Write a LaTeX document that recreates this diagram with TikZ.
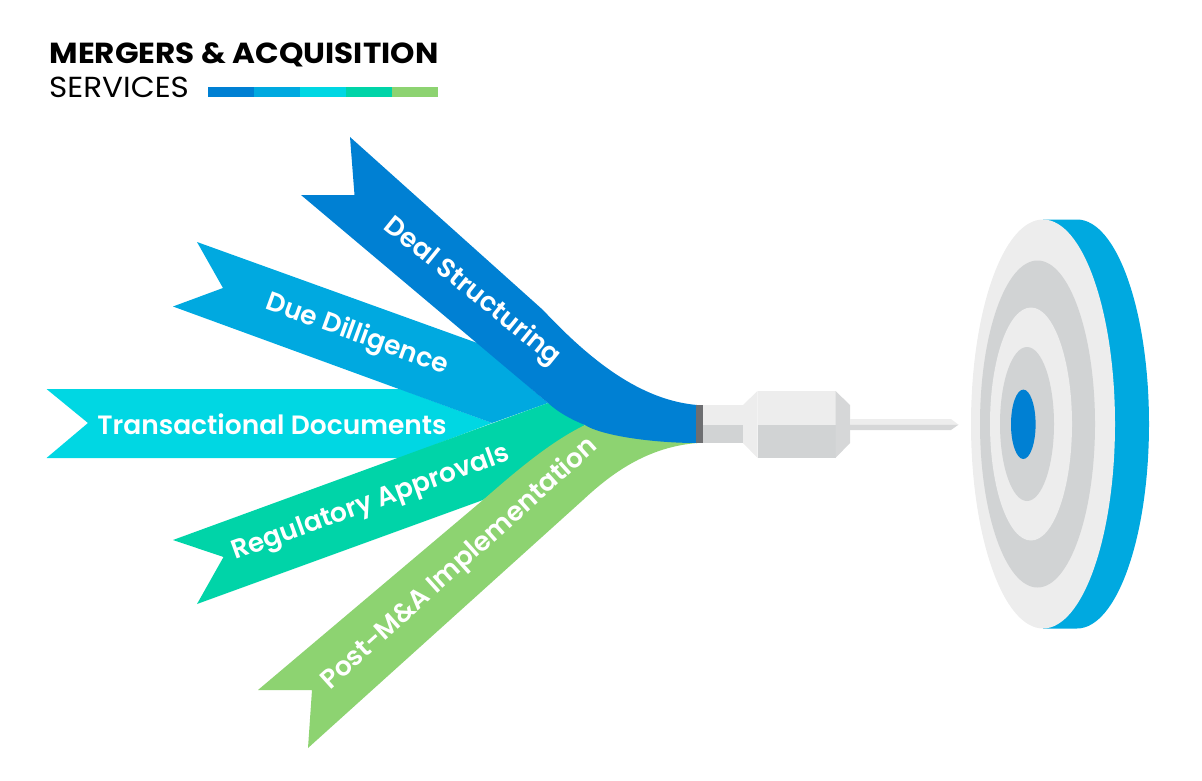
\documentclass[tikz,border=0pt]{standalone}
\usepackage{fontspec}
\setmainfont{Poppins}
\newfontfamily\labelfont{Poppins SemiBold}
\usepackage{tikz}
\usetikzlibrary{positioning}
\definecolor{mblue}{HTML}{0080D3}
\definecolor{msky}{HTML}{00A9E0}
\definecolor{mcyan}{HTML}{00D7E3}
\definecolor{mteal}{HTML}{00D4A8}
\definecolor{mgreen}{HTML}{8DD371}
\definecolor{mlight}{HTML}{EDEDED}
\definecolor{mgray}{HTML}{D1D3D4}
\definecolor{mdark}{HTML}{6D6E71}
\tikzset{label/.style = {text = white, font = \fontsize{26.5}{26.5}\labelfont, inner sep = 0}}
\tikzset{barpart/.style = {minimum width = 46, minimum height = 10, inner sep = 0, outer sep = 0}}
\begin{document}
\begin{tikzpicture}[x = 1pt, y = -1pt]
    \useasboundingbox (0, 0) rectangle (1202, 781);
    % ribbons
    \fill [mcyan] (46.5, 389) -- (400, 389) -- (492, 423) -- (400, 458) -- (46.5, 458) -- (88, 423) -- cycle;
    \fill [msky] (197, 242) -- (480, 344) -- (548, 403) -- (492, 423) -- (173, 306.5) -- (223, 288) -- cycle;
    \fill [mteal] (173, 540) -- (548, 403) -- (585, 425) -- (483, 500) -- (197, 604) -- (223.5, 557) -- cycle;
    \fill [mgreen] (308, 748) -- (312, 690) -- (258, 690) -- (483, 500)
      .. controls (515, 472) and (550, 442) .. (585, 425) -- (697, 443)
      .. controls (650, 447) and (615, 470) .. (583, 500) -- cycle;
    \fill [mblue] (350, 137) -- (543, 310) .. controls (590, 360) and (640, 400) .. (697, 405)
      -- (697, 443) .. controls (650, 443) and (600, 435) .. (585, 425)
      .. controls (570, 419) and (558, 412) .. (548, 403) -- (301, 195) -- (354.5, 195) -- cycle;
    % dart
    \fill [mlight] (703, 405) -- (743, 405) -- (743, 424.5) -- (703, 424.5) -- cycle;
    \fill [mgray] (703, 424.5) -- (743, 424.5) -- (743, 443) -- (703, 443) -- cycle;
    \fill [mlight] (743, 405) -- (757.5, 391) -- (757.5, 458) -- (743, 443) -- cycle;
    \fill [mlight] (757.5, 391) rectangle (835.5, 424.5);
    \fill [mgray] (757.5, 424.5) rectangle (835.5, 458);
    \fill [mgray!90!white] (835.5, 391) -- (850, 405) -- (850, 443) -- (835.5, 458) -- cycle;
    \fill [mlight] (850, 419) -- (951, 419) -- (958.5, 424.7) -- (850, 424.7) -- cycle;
    \fill [mgray!90!white] (850, 424.7) -- (958.5, 424.7) -- (951, 430) -- (850, 430) -- cycle;
    \fill [mdark] (696, 405) rectangle (703, 443);
    % target
    \fill [msky] (1043, 219.5) -- (1077, 219.5) arc (-90:90:72 and 204.5) -- (1043, 628.5) -- cycle;
    \fill [mlight] (1043, 424) ellipse (72 and 204.5);
    \fill [mgray] (1037.5, 424) ellipse (57.5 and 163.5);
    \fill [mlight] (1031, 424) ellipse (41 and 116.5);
    \fill [mgray] (1027, 424) ellipse (27 and 77);
    \fill [mblue] (1023.3, 424.3) ellipse (12.3 and 34.7);
    % title
    \node (title) [anchor = base west, inner sep = 0, xscale = 1.07, font = \fontsize{29}{29}\selectfont\bfseries] at (49.5, 64) {MERGERS \& ACQUISITION};
    \node (services) [anchor = base west, inner sep = 0, xscale = 1.07, font = \fontsize{29}{29}\selectfont] at (49, 98) {SERVICES};
    \node (bara) [barpart, fill = mblue, anchor = north west] at (208, 87) {};
    \node (barb) [barpart, fill = msky, right = 0 of bara] {};
    \node (barc) [barpart, fill = mcyan, right = 0 of barb] {};
    \node (bard) [barpart, fill = mteal, right = 0 of barc] {};
    \node (bare) [barpart, fill = mgreen, right = 0 of bard] {};
    % labels
    \node (deal) [label, rotate = -39] at (472, 292) {Deal Structuring};
    \node (due) [label, rotate = -20] at (357, 335) {Due Dilligence};
    \node (trans) [label] at (272, 424) {Transactional Documents};
    \node (regul) [label, rotate = 20] at (371, 504) {Regulatory Approvals};
    \node (post) [label, rotate = 42] at (460, 564) {Post-M\&A Implementation};
\end{tikzpicture}
\end{document}
